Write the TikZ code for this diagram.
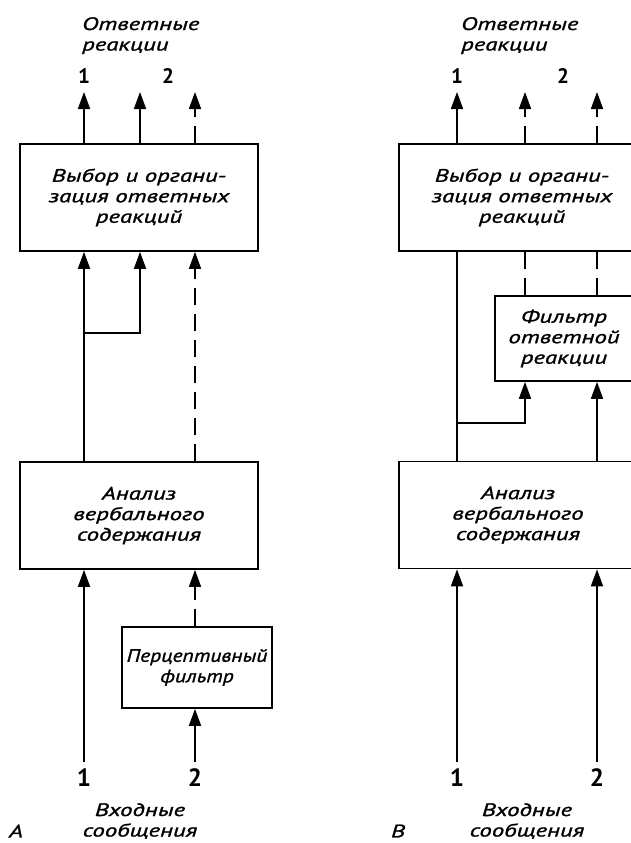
\documentclass[tikz,border=0pt]{standalone}
\usepackage{fontspec}
\setmainfont{PT Sans}
\newfontfamily\boxfam{PT Sans}[FakeStretch=1.38, FakeBold=1.3]
\newfontfamily\narrowfam{PT Sans}[FakeStretch=1.2, FakeBold=1.3]
\usetikzlibrary{arrows.meta}
\newcommand\boxfont{\boxfam\fontsize{18}{20.5}\selectfont\itshape}
\newcommand\narrowfont{\narrowfam\fontsize{18}{20.5}\selectfont\itshape}
\newcommand\numfont{\fontsize{21}{22}\selectfont\bfseries}
\newcommand\bignumfont{\fontsize{25}{26}\selectfont\bfseries}

\begin{document}
\begin{tikzpicture}[x=1pt, y=-1pt,
    box/.style={draw, line width=1.7pt, align=center, inner sep=0pt, font=\boxfont},
    arr/.style={line width=1.7pt, -{Triangle[length=17pt,width=12pt]}},
    ln/.style={line width=1.7pt},
    dsh/.style={dash pattern=on 17pt off 9pt},
    title/.style={anchor=north west, align=left, inner sep=0pt, font=\boxfont},
    num/.style={inner sep=0pt, font=\numfont},
    innum/.style={inner sep=0pt, font=\bignumfont}]
    \clip (0,0) rectangle (631,843);

    % panel A
    \node[box, minimum width=238pt, minimum height=107pt] (selA) at (139,197.5) {Выбор и органи-\\зация ответных\\реакций};
    \node[box, minimum width=238pt, minimum height=107pt] (anaA) at (139,515.5) {Анализ\\вербального\\содержания};
    \node[box, font=\narrowfont, minimum width=150pt, minimum height=81pt] (percA) at (197,667.5) {Перцептивный\\фильтр};

    \node[title] (outA) at (82,17) {Ответные\\реакции};
    \node[num] (oA1) at (84,76) {1};
    \node[num] (oA2) at (168,76) {2};
    \coordinate (tipA1) at (84,92);
    \coordinate (tipA2) at (140,92);
    \coordinate (tipA3) at (195,92);
    \coordinate (jA) at (84,333);
    \coordinate (inA1) at (84,762);
    \coordinate (inA2) at (195,762);
    \node[innum] (iA1) at (84,778) {1};
    \node[innum] (iA2) at (195,778) {2};
    \node[font=\boxfont, align=center, inner sep=0pt] (msgA) at (140,821) {Входные\\сообщения};
    \node[font=\boxfont, inner sep=0pt] (capA) at (16,831) {А};

    \draw[arr] (selA.north -| tipA1) -- (tipA1);
    \draw[arr] (selA.north -| tipA2) -- (tipA2);
    \draw[arr, dsh] (selA.north -| tipA3) -- (tipA3);
    \draw[arr] (anaA.north -| tipA1) -- (selA.south -| tipA1);
    \draw[arr] (jA) -| (selA.south -| tipA2);
    \draw[arr, dsh] (anaA.north -| tipA3) -- (selA.south -| tipA3);
    \draw[arr] (inA1) -- (inA1 |- anaA.south);
    \draw[arr] (inA2) -- (inA2 |- percA.south);
    \draw[arr, dsh] (percA.north -| inA2) -- (inA2 |- anaA.south);

    % panel B
    \node[box, minimum width=246pt, minimum height=107pt] (selB) at (522,197.5) {Выбор и органи-\\зация ответных\\реакций};
    \node[box, minimum width=138pt, minimum height=85pt] (filtB) at (564,338.5) {Фильтр\\ответной\\реакции};
    \node[box, minimum width=238pt, minimum height=107pt] (anaB) at (518,515) {Анализ\\вербального\\содержания};

    \node[title] (outB) at (461,17) {Ответные\\реакции};
    \node[num] (oB1) at (457,76) {1};
    \node[num] (oB2) at (563,76) {2};
    \coordinate (tipB1) at (457,92);
    \coordinate (tipB2) at (525,92);
    \coordinate (tipB3) at (597,92);
    \coordinate (jB) at (457,423);
    \coordinate (inB1) at (457,762);
    \coordinate (inB2) at (597,762);
    \node[innum] (iB1) at (457,778) {1};
    \node[innum] (iB2) at (597,778) {2};
    \node[font=\boxfont, align=center, inner sep=0pt] (msgB) at (527,821) {Входные\\сообщения};
    \node[font=\boxfont, inner sep=0pt] (capB) at (398,831) {В};

    \draw[arr] (selB.north -| tipB1) -- (tipB1);
    \draw[arr, dsh] (selB.north -| tipB2) -- (tipB2);
    \draw[arr, dsh] (selB.north -| tipB3) -- (tipB3);
    \draw[ln] (anaB.north -| tipB1) -- (selB.south -| tipB1);
    \draw[ln, dsh] (filtB.north -| tipB2) -- (selB.south -| tipB2);
    \draw[ln, dsh] (filtB.north -| tipB3) -- (selB.south -| tipB3);
    \draw[arr] (jB) -| (filtB.south -| tipB2);
    \draw[arr] (anaB.north -| tipB3) -- (filtB.south -| tipB3);
    \draw[arr] (inB1) -- (inB1 |- anaB.south);
    \draw[arr] (inB2) -- (inB2 |- anaB.south);
\end{tikzpicture}
\end{document}
